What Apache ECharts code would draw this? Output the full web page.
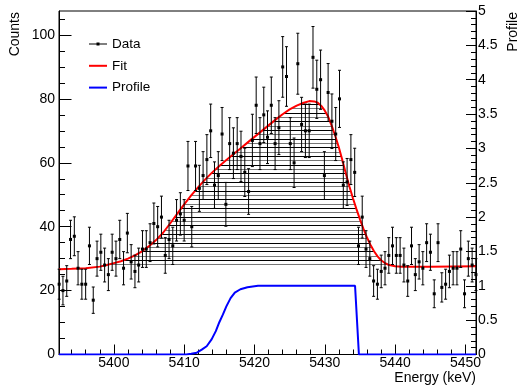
<!DOCTYPE html>
<html><head><meta charset="utf-8">
<script src="https://cdn.jsdelivr.net/npm/echarts@6/dist/echarts.min.js"></script>
<style>html,body{margin:0;padding:0;background:#fff}#c{width:521px;height:390px}</style>
</head><body><div id="c"></div>
<script>
// ---- data ----
const energies = [
5392.22,5392.76,5393.30,5393.84,5394.38,5394.91,5395.45,5395.99,5396.53,5397.07,
5397.61,5398.15,5398.69,5399.22,5399.76,5400.30,5400.84,5401.38,5401.92,5402.46,
5403.00,5403.53,5404.07,5404.61,5405.15,5405.69,5406.23,5406.77,5407.31,5407.85,
5408.38,5408.92,5409.46,5410.00,5410.54,5411.08,5411.62,5412.16,5412.69,5413.23,
5413.77,5414.31,5414.85,5415.39,5415.93,5416.47,5417.00,5417.54,5418.08,5418.62,
5419.16,5419.70,5420.24,5420.78,5421.32,5421.85,5422.39,5422.93,5423.47,5424.01,
5424.55,5425.09,5425.63,5426.16,5426.70,5427.24,5427.78,5428.32,5428.86,5429.40,
5429.94,5430.47,5431.01,5431.55,5432.09,5432.63,5433.17,5433.71,5434.25,5434.79,
5435.32,5435.86,5436.40,5436.94,5437.48,5438.02,5438.56,5439.10,5439.63,5440.17,
5440.71,5441.25,5441.79,5442.33,5442.87,5443.41,5443.94,5444.48,5445.02,5445.56,
5446.10,5446.64,5447.18,5447.72,5448.25,5448.79,5449.33,5449.87,5450.41,5450.95,
5451.49];
const counts = [
22,20,23,36,37,27,22,22,34,17,
30,32,28,25,32,30,36,27,38,29,
26,28,33,33,35,41,40,43,31,36,
34,42,44,42,59,40,59,52,56,61,
70,53,56,69,47,66,63,66,62,57,
51,67,78,66,75,68,78,66,71,90,
87,66,60,91,72,70,70,93,83,86,
56,82,73,69,80,53,54,61,57,34,
43,33,30,23,22,26,27,31,34,31,
31,28,23,34,25,29,27,35,32,19,
35,21,22,26,27,27,33,19,30,28,
25];
const fitEnergies = [5392.2,5394,5396,5398,5399,5400,5401,5402,5403,5404,5405,5406,5407,5408,5409,5410,5411,5412,5413,5414,5415,5416,5417,5418,5419,5420,5421,5422,5423,5424,5425,5426,5427,5427.8,5428.5,5429,5429.5,5430,5430.5,5431,5431.5,5432,5432.5,5433,5433.5,5434,5434.5,5435,5435.5,5436,5436.5,5437,5437.5,5438,5438.5,5439,5440,5441,5445,5451.5];
const fitValues   = [26.7,26.8,27.0,27.5,28.0,28.6,29.2,30.0,31.0,32.3,33.9,35.8,38.1,41.0,44.0,47.0,49.8,52.4,54.8,57.0,59.0,60.9,62.7,64.5,66.3,68.1,69.9,71.7,73.5,75.2,76.7,77.9,78.8,79.3,79.2,78.8,77.8,76.3,74.3,71.5,68.3,64.8,60.8,56.6,52.6,48.9,45.5,42.3,39.3,36.6,34.3,32.3,30.7,29.5,28.7,28.1,27.6,27.5,27.5,27.6];
const backgroundLevel = 27.1;
const profileEnergies = [5392.2,5410.3,5411.0,5411.8,5412.5,5413.2,5413.9,5414.5,5415.0,5415.5,5416.0,5416.6,5417.2,5418.0,5419.0,5420.5,5434.3,5434.85,5451.5];
const profileValues   = [0,0,0.01,0.026,0.07,0.12,0.22,0.34,0.47,0.58,0.70,0.82,0.90,0.95,0.98,1.0,1.0,0,0];
const xMajorTicks = [5400,5410,5420,5430,5440,5450];
const xMinorTicks = [5394,5396,5398,5402,5404,5406,5408,5412,5414,5416,5418,5422,5424,5426,5428,5432,5434,5436,5438,5442,5444,5446,5448];
const yLeftMajor = [0,20,40,60,80,100];
const yLeftMinor = [5,10,15,25,30,35,45,50,55,65,70,75,85,90,95,105];
const yRightMajor = [0,0.5,1,1.5,2,2.5,3,3.5,4,4.5,5];
const yRightMinor = [0.1,0.2,0.3,0.4,0.6,0.7,0.8,0.9,1.1,1.2,1.3,1.4,1.6,1.7,1.8,1.9,2.1,2.2,2.3,2.4,2.6,2.7,2.8,2.9,3.1,3.2,3.3,3.4,3.6,3.7,3.8,3.9,4.1,4.2,4.3,4.4,4.6,4.7,4.8,4.9];

// ---- build ----
const FONT = '"Liberation Sans", Arial, sans-serif';
const dataPts = energies.map((e, i) => [e, counts[i], Math.sqrt(counts[i])]);
const fitPts = fitEnergies.map((e, i) => [e, fitValues[i]]);
const profPts = profileEnergies.map((e, i) => [e, profileValues[i]]);

const pc = document.createElement('canvas');
pc.width = 8; pc.height = 26;
const ctx = pc.getContext('2d');
[[0,'#000'],[4,'#777'],[9,'#000'],[13,'#777'],[17,'#000'],[22,'#777']].forEach(([y,c]) => { ctx.fillStyle = c; ctx.fillRect(0, y, 8, 1); });

const XMIN = 5392.2, XMAX = 5451.5, YMAX = 107.5;
const plain = v => String(v);
const chart = echarts.init(document.getElementById('c'), null, {renderer: 'canvas'});
const baseAxis = {axisLine:{show:false}, splitLine:{show:false}, axisLabel:{show:false}};
chart.setOption({
  animation: false,
  backgroundColor: '#fff',
  grid: {left: 59, right: 45, top: 11, bottom: 35.5, show: true, borderColor: '#000', borderWidth: 1, outerBoundsMode: 'none'},
  legend: {
    left: 89, top: 37, padding: 0, orient: 'vertical', itemWidth: 18, itemHeight: 14, itemGap: 7.8, itemGap2: 0,
    textStyle: {color: '#000', fontSize: 13.5, fontFamily: FONT},
    selectedMode: false,
    data: [
      {name: 'Data', icon: 'path://M0,4H18V5H0Z M7.5,3H10.5V6H7.5Z'},
      {name: 'Fit', icon: 'path://M0,0H18V2H0Z'},
      {name: 'Profile', icon: 'path://M0,0H18V2H0Z'}
    ]
  },
  xAxis: [
    {type: 'value', min: XMIN, max: XMAX, position: 'bottom',
     axisLine: {show: true, lineStyle: {color: '#000', width: 1}},
     axisTick: {show: true, inside: true, length: 10, customValues: xMajorTicks, lineStyle: {color: '#000'}},
     axisLabel: {show: true, customValues: xMajorTicks, formatter: plain, color: '#000', fontSize: 14, fontFamily: FONT, margin: 2},
     splitLine: {show: false}},
    Object.assign({type: 'value', min: XMIN, max: XMAX, position: 'bottom',
     axisTick: {show: true, inside: true, length: 5, customValues: xMinorTicks, lineStyle: {color: '#000'}}}, baseAxis)
  ],
  yAxis: [
    {type: 'value', min: 0, max: YMAX, position: 'left',
     axisLine: {show: true, lineStyle: {color: '#000', width: 1}},
     axisTick: {show: true, inside: true, length: 12.5, customValues: yLeftMajor, lineStyle: {color: '#000'}},
     axisLabel: {show: true, customValues: yLeftMajor, formatter: plain, color: '#000', fontSize: 14, fontFamily: FONT, margin: 4},
     splitLine: {show: false}},
    Object.assign({type: 'value', min: 0, max: YMAX, position: 'left',
     axisTick: {show: true, inside: true, length: 6, customValues: yLeftMinor, lineStyle: {color: '#000'}}}, baseAxis),
    {type: 'value', min: 0, max: 5, position: 'right',
     axisLine: {show: true, lineStyle: {color: '#000', width: 1}},
     axisTick: {show: true, inside: true, length: 10, customValues: yRightMajor, lineStyle: {color: '#000'}},
     axisLabel: {show: true, customValues: yRightMajor, formatter: plain, color: '#000', fontSize: 14, fontFamily: FONT, margin: 2},
     splitLine: {show: false}},
    Object.assign({type: 'value', min: 0, max: 5, position: 'right',
     axisTick: {show: true, inside: true, length: 5, customValues: yRightMinor, lineStyle: {color: '#000'}}}, baseAxis)
  ],
  graphic: [
    {type: 'text', x: 15, y: 12, rotation: Math.PI / 2, style: {text: 'Counts', fill: '#000', fontSize: 14, fontFamily: FONT, align: 'right', verticalAlign: 'middle'}},
    {type: 'text', x: 513, y: 12, rotation: Math.PI / 2, style: {text: 'Profile', fill: '#000', fontSize: 14, fontFamily: FONT, align: 'right', verticalAlign: 'middle'}},
    {type: 'text', x: 476, y: 378, style: {text: 'Energy (keV)', fill: '#000', fontSize: 14, fontFamily: FONT, align: 'right', verticalAlign: 'middle'}}
  ],
  series: [
    {name: 'Fit', type: 'line', xAxisIndex: 0, yAxisIndex: 0, data: fitPts, color: '#ff0000',
     smooth: false, symbol: 'none', z: 3,
     lineStyle: {color: '#ff0000', width: 2},
     areaStyle: {origin: backgroundLevel, color: {image: pc, repetition: 'repeat'}, opacity: 1}},
    {name: 'Profile', type: 'line', xAxisIndex: 0, yAxisIndex: 2, data: profPts, color: '#0000ff',
     symbol: 'none', z: 4, lineStyle: {color: '#0000ff', width: 2}},
    {name: 'Data', type: 'custom', xAxisIndex: 0, yAxisIndex: 0, data: dataPts, z: 5,
     itemStyle: {color: '#000'}, color: '#000',
     encode: {x: 0, y: 1},
     renderItem: function (params, api) {
       const x = api.value(0), y = api.value(1), e = api.value(2);
       const p = api.coord([x, y]);
       const t = api.coord([x, y + e]);
       const b = api.coord([x, y - e]);
       const st = {stroke: '#000', lineWidth: 1};
       return {type: 'group', children: [
         {type: 'line', shape: {x1: p[0], y1: t[1], x2: p[0], y2: b[1]}, style: st},
         {type: 'line', shape: {x1: p[0] - 1.5, y1: t[1], x2: p[0] + 1.5, y2: t[1]}, style: st},
         {type: 'line', shape: {x1: p[0] - 1.5, y1: b[1], x2: p[0] + 1.5, y2: b[1]}, style: st},
         {type: 'rect', shape: {x: p[0] - 1.5, y: p[1] - 1.5, width: 3, height: 3}, style: {fill: '#000'}}
       ]};
     }}
  ]
});
</script>
</body></html>
